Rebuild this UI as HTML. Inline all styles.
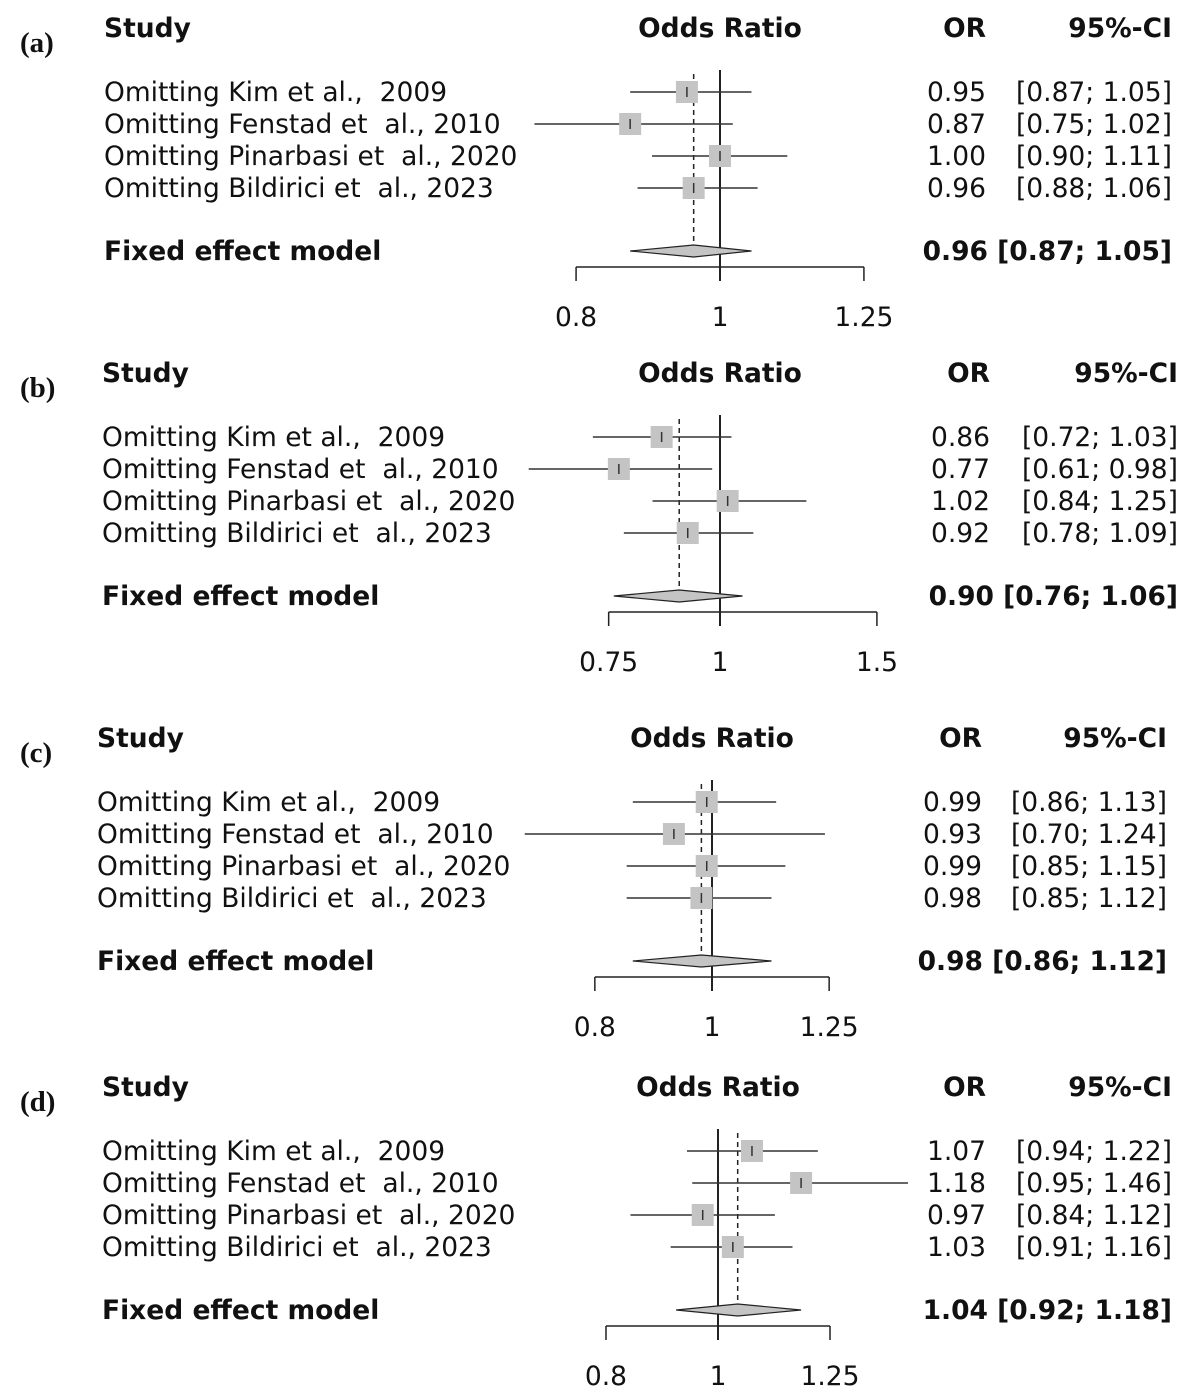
<!DOCTYPE html>
<html><head><meta charset="utf-8">
<style>
body{margin:0;background:#fff;}
svg text{font-family:"DejaVu Sans","Liberation Sans",sans-serif;font-size:26.5px;fill:#111;white-space:pre;}
.b{font-weight:bold;}
svg text.lt{font-family:"Liberation Serif",serif;font-weight:bold;font-size:29px;}
</style></head>
<body>
<svg id="c" width="1193" height="1395" xmlns="http://www.w3.org/2000/svg"></svg>
<script>
const studies = ["Omitting Kim et al.,  2009","Omitting Fenstad et  al., 2010","Omitting Pinarbasi et  al., 2020","Omitting Bildirici et  al., 2023"];
const panelLetters = ["(a)","(b)","(c)","(d)"];
const orA = [0.95,0.87,1.00,0.96], loA=[0.87,0.75,0.90,0.88], hiA=[1.05,1.02,1.11,1.06], fixA=[0.96,0.87,1.05];
const orB = [0.86,0.77,1.02,0.92], loB=[0.72,0.61,0.84,0.78], hiB=[1.03,0.98,1.25,1.09], fixB=[0.90,0.76,1.06];
const orC = [0.99,0.93,0.99,0.98], loC=[0.86,0.70,0.85,0.85], hiC=[1.13,1.24,1.15,1.12], fixC=[0.98,0.86,1.12];
const orD = [1.07,1.18,0.97,1.03], loD=[0.94,0.95,0.84,0.91], hiD=[1.22,1.46,1.12,1.16], fixD=[1.04,0.92,1.18];
const ticksA=[0.8,1,1.25], ticksB=[0.75,1,1.5], ticksC=[0.8,1,1.25], ticksD=[0.8,1,1.25];
const tickLabA=["0.8","1","1.25"], tickLabB=["0.75","1","1.5"], tickLabC=["0.8","1","1.25"], tickLabD=["0.8","1","1.25"];

const svg=document.getElementById('c');
const NS="http://www.w3.org/2000/svg";
function el(tag,attrs,parent,txt){const e=document.createElementNS(NS,tag);for(const k in attrs)e.setAttribute(k,attrs[k]);if(txt!==undefined)e.textContent=txt;parent.appendChild(e);return e;}
const f2=v=>v.toFixed(2);

const layouts=[
 {y0:28,lx:104,cx:720,sc:645,or:orA,lo:loA,hi:hiA,fix:fixA,ticks:ticksA,tl:tickLabA},
 {y0:373,lx:102,cx:720,sc:387,or:orB,lo:loB,hi:hiB,fix:fixB,ticks:ticksB,tl:tickLabB},
 {y0:738,lx:97,cx:712,sc:525,or:orC,lo:loC,hi:hiC,fix:fixC,ticks:ticksC,tl:tickLabC},
 {y0:1087,lx:102,cx:718,sc:502,or:orD,lo:loD,hi:hiD,fix:fixD,ticks:ticksD,tl:tickLabD}
];
const orRight=[986,990,982,986], ciRight=[1172,1178,1167,1172];
layouts.forEach((p,pi)=>{
  const g=el('g',{},svg);
  
  
  const X=v=>p.cx+p.sc*Math.log(v);
  const y0=p.y0;
  const t=(x,y,s,cls,anchor,name)=>{const e=el('text',{x:x,y:y+9,'text-anchor':anchor||'start',class:cls||''},g,s);return e;};
  const lt=el('text',{x:20,y:y0+24,class:'lt'},g,panelLetters[pi]);
  
  t(p.lx,y0,"Study","b","start","study-header");
  t(p.cx,y0,"Odds Ratio","b","middle","odds-ratio-header");
  t(orRight[pi],y0,"OR","b","end","or-header");
  t(ciRight[pi],y0,"95%-CI","b","end","ci-header");
  const rowY=i=>y0+64+32*i;
  const fy=y0+223, ay=y0+239;
  const rl=el('line',{x1:X(1),x2:X(1),y1:y0+42,y2:ay+14,stroke:'#222','stroke-width':2},g);
  
  const dl=el('line',{x1:X(p.fix[0]),x2:X(p.fix[0]),y1:y0+46,y2:fy-6,stroke:'#222','stroke-width':1.5,'stroke-dasharray':'5,4'},g);
  
  p.or.forEach((v,i)=>{
    const y=rowY(i);
    t(p.lx,y,studies[i],"","start","study-label");
    t(orRight[pi],y,f2(v),"","end","or-value");
    t(ciRight[pi],y,"["+f2(p.lo[i])+"; "+f2(p.hi[i])+"]","","end","ci-value");
    const ci=el('line',{x1:X(p.lo[i]),x2:X(p.hi[i]),y1:y,y2:y,stroke:'#333','stroke-width':1.5},g);
    
    const sq=el('rect',{x:X(v)-11,y:y-11,width:22,height:22,fill:'#c4c4c4'},g);
    
    const tk=el('line',{x1:X(v),x2:X(v),y1:y-5,y2:y+5,stroke:'#333','stroke-width':1.5},g);
    
  });
  t(p.lx,fy,"Fixed effect model","b","start","fixed-effect-label");
  t(ciRight[pi],fy,f2(p.fix[0])+" ["+f2(p.fix[1])+"; "+f2(p.fix[2])+"]","b","end","fixed-effect-value");
  const dm=el('polygon',{points:`${X(p.fix[1])},${fy} ${X(p.fix[0])},${fy-6} ${X(p.fix[2])},${fy} ${X(p.fix[0])},${fy+6}`,fill:'#c4c4c4',stroke:'#222','stroke-width':1.2},g);
  
  const ax=el('line',{x1:X(p.ticks[0]),x2:X(p.ticks[p.ticks.length-1]),y1:ay,y2:ay,stroke:'#222','stroke-width':1.5},g);
  
  p.ticks.forEach((v,i)=>{
    const tkl=el('line',{x1:X(v),x2:X(v),y1:ay,y2:ay+14,stroke:'#222','stroke-width':1.5},g);
    
    t(X(v),ay+50,p.tl[i],"","middle","x-tick-label");
  });
});
</script>
</body></html>
